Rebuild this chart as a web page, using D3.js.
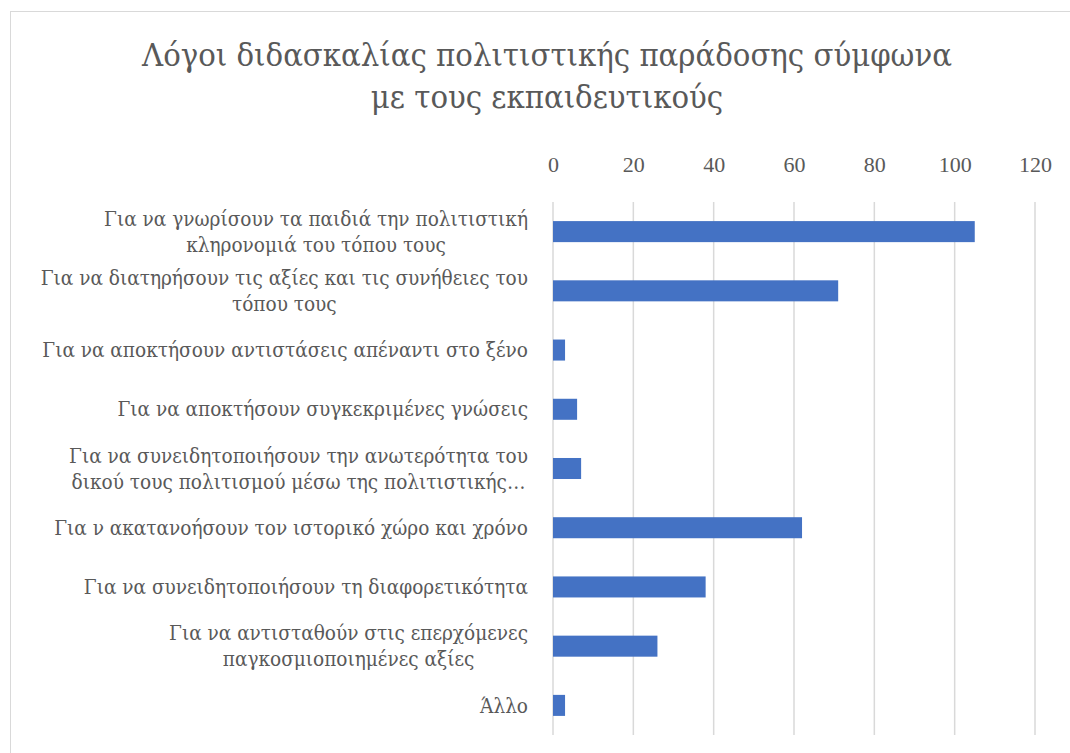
<!DOCTYPE html>
<html lang="el">
<head>
  <meta charset="UTF-8">
  <title>Λόγοι διδασκαλίας</title>
  <style>
    body { margin: 0; background: #fff; }
    text { font-family: "DejaVu Serif Condensed", "DejaVu Serif", "Liberation Serif", serif; fill: #595959; }
    .tick text { font-family: "Liberation Serif", "Times New Roman", serif; }
  </style>
</head>
<body>
<script src="https://d3js.org/d3.v7.min.js"></script>
<script>
  // data
  const titleLines = ["Λόγοι διδασκαλίας πολιτιστικής παράδοσης σύμφωνα", "με τους εκπαιδευτικούς"];
  const categories = [
    "Για να γνωρίσουν τα παιδιά την πολιτιστική\nκληρονομιά του τόπου τους",
    "Για να διατηρήσουν τις αξίες και τις συνήθειες του\nτόπου τους",
    "Για να αποκτήσουν αντιστάσεις απέναντι στο ξένο",
    "Για να αποκτήσουν συγκεκριμένες γνώσεις",
    "Για να συνειδητοποιήσουν την ανωτερότητα του\nδικού τους πολιτισμού μέσω της πολιτιστικής…",
    "Για ν ακατανοήσουν τον ιστορικό χώρο και χρόνο",
    "Για να συνειδητοποιήσουν τη διαφορετικότητα",
    "Για να αντισταθούν στις επερχόμενες\nπαγκοσμιοποιημένες αξίες",
    "Άλλο"
  ];
  const values = [105, 71, 3, 6, 7, 62, 38, 26, 3];
  const tickValues = [0, 20, 40, 60, 80, 100, 120];

  const W = 1070, H = 753;
  const svg = d3.select("body").append("svg")
      .attr("width", W)
      .attr("height", H);

  // fit a font size so that a given string spans roughly the width seen in the picture
  function fitSize(str, targetW, base) {
    const t = svg.append("text").attr("font-size", base).text(str);
    const w = t.node().getComputedTextLength();
    t.remove();
    return base * targetW / w;
  }
  const titleSize = fitSize(titleLines[0], 810, 30);
  const labelSize = fitSize(categories[2], 486, 20);

  // chart border (runs off the right and bottom edges in the original)
  svg.append("rect")
      .attr("x", 10.5).attr("y", 11.5)
      .attr("width", 1100).attr("height", 800)
      .attr("fill", "#fff")
      .attr("stroke", "#d9d9d9")
      .attr("stroke-width", 1);

  svg.append("g").selectAll("text")
      .data(titleLines)
      .join("text")
      .attr("x", 547)
      .attr("y", (d, i) => 66 + i * 42)
      .attr("text-anchor", "middle")
      .attr("font-size", titleSize)
      .text(d => d);

  const x = d3.scaleLinear().domain([0, 120]).range([553, 1035]);
  const y = d3.scaleBand().domain(categories).range([202, 735])
      .paddingInner(0.645).paddingOuter(0.3225);

  // gridlines
  svg.append("g").selectAll("line")
      .data(tickValues)
      .join("line")
      .attr("x1", d => x(d)).attr("x2", d => x(d))
      .attr("y1", 202).attr("y2", 735)
      .attr("stroke", "#d9d9d9")
      .attr("stroke-width", 1.5);

  // top axis labels
  const xAxis = svg.append("g")
      .attr("transform", "translate(0,172)")
      .call(d3.axisTop(x).tickValues(tickValues).tickSize(0).tickPadding(0));
  xAxis.select(".domain").remove();
  xAxis.selectAll("text")
      .attr("font-size", 22)
      .attr("fill", "#595959")
      .attr("dy", 0);

  svg.append("g").selectAll("rect")
      .data(values)
      .join("rect")
      .attr("x", x(0))
      .attr("y", (d, i) => y(categories[i]))
      .attr("width", d => x(d) - x(0))
      .attr("height", y.bandwidth())
      .attr("fill", "#4472C4");

  // category labels: block right-aligned, wrapped lines centred within block
  const labelRight = 528, lineH = 26;
  const labels = svg.append("g").selectAll("g")
      .data(categories)
      .join("g");
  labels.each(function(d) {
    const g = d3.select(this);
    const lines = d.split("\n");
    const cy = y(d) + y.bandwidth() / 2;
    const texts = lines.map((line, i) => g.append("text")
        .attr("font-size", labelSize)
        .attr("y", cy + (i - (lines.length - 1) / 2) * lineH)
        .attr("dy", "0.35em")
        .attr("text-anchor", "middle")
        .text(line));
    const widths = texts.map(t => t.node().getComputedTextLength());
    const blockW = d3.max(widths);
    texts.forEach(t => t.attr("x", labelRight - blockW / 2));
  });
</script>
</body>
</html>
